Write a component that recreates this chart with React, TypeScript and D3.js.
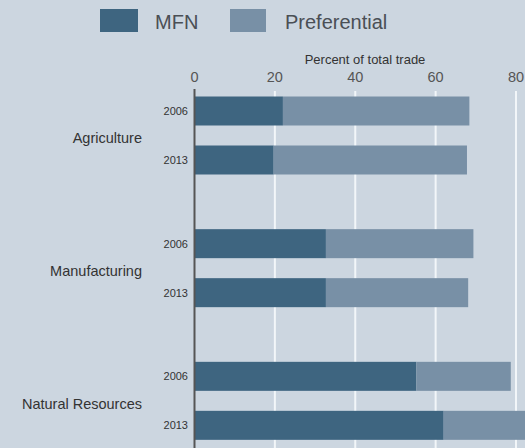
import React from "react";
import * as d3 from "d3";

const categories = ["Agriculture", "Manufacturing", "Natural Resources"];
const years = ["2006", "2013"];
const mfn = [
  [22.0, 19.7],
  [32.7, 32.7],
  [55.2, 62.0],
];
const preferential = [
  [46.4, 48.1],
  [36.7, 35.4],
  [23.5, 24.0],
];
const xTicks = [0, 20, 40, 60, 80];
const seriesNames = ["MFN", "Preferential"];

const W = 525;
const H = 448;
const BG = "#ccd6e0";
const C_MFN = "#3e6580";
const C_PREF = "#7890a6";

export default function App() {
  const x = d3.scaleLinear().domain([0, 80]).range([194.5, 516]);
  const outer = d3.scaleBand<string>().domain(categories).range([69, 467]).padding(0);
  const inner = d3
    .scaleBand<string>()
    .domain(years)
    .range([27.5, 105.5])
    .paddingInner(20 / 49)
    .paddingOuter(0);
  const font = "Liberation Sans, Arial, sans-serif";

  return (
    <svg
      width={W}
      height={H}
      style={{ position: "absolute", left: 0, top: 0, background: BG }}
      fontFamily={font}
    >
      <rect x={0} y={0} width={W} height={H} fill={BG} />
      {/* legend */}
      <rect x={100} y={9} width={38} height={23} fill={C_MFN} />
      <text x={155} y={29} fontSize={20} fill="#4a4f55">{seriesNames[0]}</text>
      <rect x={230} y={9} width={36} height={23} fill={C_PREF} />
      <text x={285} y={29} fontSize={20} fill="#4a4f55">{seriesNames[1]}</text>

      {/* axis title */}
      <text x={365} y={64} fontSize={13} textAnchor="middle" fill="#333">
        Percent of total trade
      </text>
      {/* grid + ticks */}
      {xTicks.map((t) => (
        <g key={t}>
          <text x={x(t)} y={82} fontSize={14.5} textAnchor="middle" fill="#555">
            {t}
          </text>
          {t > 0 && (
            <line x1={x(t)} x2={x(t)} y1={91} y2={H} stroke="#f2f6f9" strokeWidth={2} />
          )}
        </g>
      ))}

      {/* bars */}
      {categories.map((c, ci) =>
        years.map((yr, yi) => {
          const y0 = (outer(c) ?? 0) + (inner(yr) ?? 0);
          const bw = inner.bandwidth();
          const m = mfn[ci][yi];
          const p = preferential[ci][yi];
          return (
            <g key={c + yr}>
              <rect x={x(0)} y={y0} width={x(m) - x(0)} height={bw} fill={C_MFN} />
              <rect x={x(m)} y={y0} width={x(m + p) - x(m)} height={bw} fill={C_PREF} />
              <text
                x={188}
                y={y0 + bw / 2 + 4}
                fontSize={11}
                textAnchor="end"
                fill="#333"
              >
                {yr}
              </text>
            </g>
          );
        })
      )}

      {/* category labels */}
      {categories.map((c) => (
        <text
          key={c}
          x={142}
          y={(outer(c) ?? 0) + outer.bandwidth() / 2 + 8}
          fontSize={14.5}
          textAnchor="end"
          fill="#333"
        >
          {c}
        </text>
      ))}

      {/* y axis line */}
      <line x1={x(0)} x2={x(0)} y1={89} y2={H} stroke="#555" strokeWidth={2} />
    </svg>
  );
}
